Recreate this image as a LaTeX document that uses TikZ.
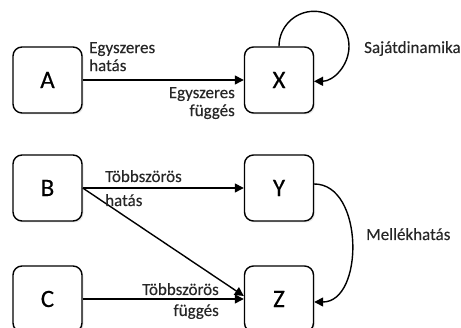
\documentclass[tikz,border=0pt]{standalone}
\usepackage{fontspec}
\setmainfont{Carlito}
\newfontfamily\lblfont{Carlito}[FakeBold=0.25]
\usetikzlibrary{arrows.meta,shadows}
\begin{document}
\begin{tikzpicture}[x=1pt,y=1pt,
  box/.style={draw,line width=1.4pt,rounded corners=9pt,minimum width=69pt,minimum height=66pt,
    font=\lblfont\fontsize{25}{28}\selectfont,fill=white,
    drop shadow={opacity=0.18,shadow xshift=1.5pt,shadow yshift=-1.5pt}},
  conn/.style={line width=1.4pt,-{Triangle[length=9pt,width=9pt]}},
  lbl/.style={font=\lblfont\fontsize{17}{18}\selectfont,inner sep=0pt,text=black!85}
]
\useasboundingbox (0,0) rectangle (461,328);
\node[box] (A) at (47.5,248) {A};
\node[box] (X) at (279,248) {X};
\node[box] (B) at (47.5,140) {B};
\node[box] (Y) at (279,140) {Y};
\node[box] (C) at (47.5,29) {C};
\node[box] (Z) at (279,29) {Z};

\draw[conn] (A) -- (X);
\draw[conn] (X.north) arc[start angle=180,end angle=-90,radius=35];
\draw[conn] (B) -- (Y);
\draw[conn] (B.east) -- ([yshift=3pt]Z.west);
\draw[conn] (C) -- (Z);
\draw[conn] ([yshift=4pt]Y.east) .. controls +(50,0) and +(50,0) .. ([yshift=-3pt]Z.east);

\node[lbl,align=left,anchor=north west] (l1) at (89,286) {Egyszeres\\hatás};
\node[lbl,align=right,anchor=north east] (l2) at (235,241) {Egyszeres\\függés};
\node[lbl,anchor=base west] (l3) at (364,275) {Sajátdinamika};
\node[lbl,align=left,anchor=north west,font=\lblfont\fontsize{17}{24}\selectfont] (l4) at (105,158) {Többszörös\\hatás};
\node[lbl,align=right,anchor=north east,font=\lblfont\fontsize{17}{21}\selectfont] (l5) at (219,45) {Többszörös\\függés};
\node[lbl,anchor=base west] (l6) at (366,88) {Mellékhatás};
\end{tikzpicture}
\end{document}
